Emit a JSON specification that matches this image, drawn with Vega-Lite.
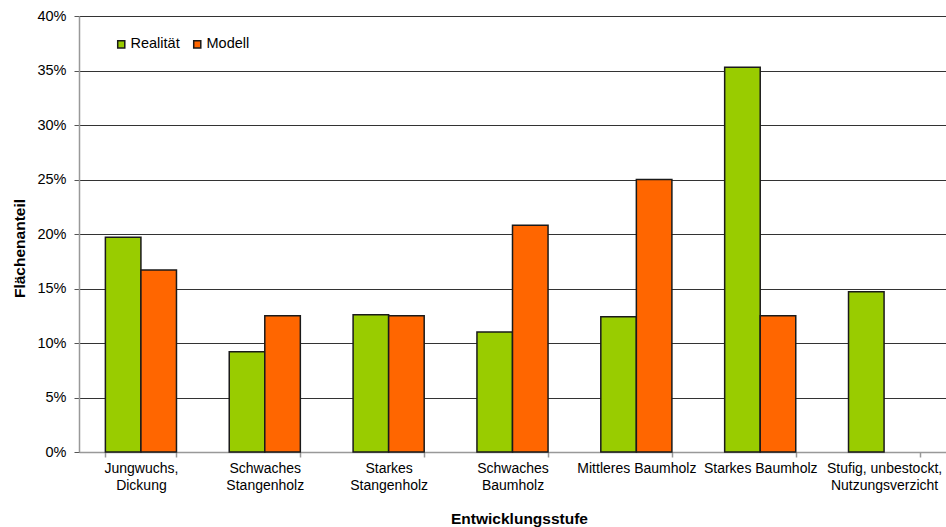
{
  "$schema": "https://vega.github.io/schema/vega-lite/v6.json",
  "width": 867,
  "height": 436,
  "autosize": {"type": "none"},
  "padding": {"left": 79, "top": 16, "right": 0, "bottom": 75},
  "background": "white",
  "config": {
    "font": "Liberation Sans",
    "view": {"stroke": null}
  },
  "data": {
    "values": [
      {"stufe": "Jungwuchs,\nDickung", "serie": "Realität", "anteil": 0.197},
      {"stufe": "Jungwuchs,\nDickung", "serie": "Modell", "anteil": 0.167},
      {"stufe": "Schwaches\nStangenholz", "serie": "Realität", "anteil": 0.092},
      {"stufe": "Schwaches\nStangenholz", "serie": "Modell", "anteil": 0.125},
      {"stufe": "Starkes\nStangenholz", "serie": "Realität", "anteil": 0.126},
      {"stufe": "Starkes\nStangenholz", "serie": "Modell", "anteil": 0.125},
      {"stufe": "Schwaches\nBaumholz", "serie": "Realität", "anteil": 0.110},
      {"stufe": "Schwaches\nBaumholz", "serie": "Modell", "anteil": 0.208},
      {"stufe": "Mittleres Baumholz", "serie": "Realität", "anteil": 0.124},
      {"stufe": "Mittleres Baumholz", "serie": "Modell", "anteil": 0.250},
      {"stufe": "Starkes Baumholz", "serie": "Realität", "anteil": 0.353},
      {"stufe": "Starkes Baumholz", "serie": "Modell", "anteil": 0.125},
      {"stufe": "Stufig, unbestockt,\nNutzungsverzicht", "serie": "Realität", "anteil": 0.147}
    ]
  },
  "mark": {"type": "bar", "stroke": "#1a1a1a", "strokeWidth": 1.5},
  "encoding": {
    "x": {
      "field": "stufe",
      "type": "nominal",
      "sort": ["Jungwuchs,\nDickung", "Schwaches\nStangenholz", "Starkes\nStangenholz", "Schwaches\nBaumholz", "Mittleres Baumholz", "Starkes Baumholz", "Stufig, unbestockt,\nNutzungsverzicht"],
      "scale": {"paddingInner": 0.426, "paddingOuter": 0.213},
      "axis": {
        "title": "Entwicklungsstufe",
        "titleFont": "Liberation Sans",
        "titleFontSize": 15.5,
        "titleFontWeight": "bold",
        "titleColor": "black",
        "titleX": 440,
        "titleY": 66,
        "titleBaseline": "middle",
        "titleAlign": "center",
        "labelExpr": "split(datum.label, '\\n')",
        "labelAngle": 0,
        "labelFontSize": 14,
        "labelColor": "black",
        "labelPadding": 4,
        "labelLineHeight": 17,
        "labelLimit": 200,
        "domainColor": "#999",
        "domainWidth": 1.5,
        "tickColor": "#999",
        "tickWidth": 1.5,
        "tickSize": 5,
        "tickBand": "extent",
        "grid": false
      }
    },
    "xOffset": {"field": "serie", "type": "nominal", "sort": ["Realität", "Modell"], "scale": {"domain": ["Realität", "Modell"], "paddingInner": 0, "paddingOuter": 0}},
    "y": {
      "field": "anteil",
      "type": "quantitative",
      "scale": {"domain": [0, 0.4], "nice": false},
      "axis": {
        "title": "Flächenanteil",
        "titleFont": "Liberation Sans",
        "titleFontSize": 15.5,
        "titleFontWeight": "bold",
        "titleColor": "black",
        "titleX": -60,
        "titleY": 232,
        "titleBaseline": "middle",
        "titleAlign": "center",
        "titleAngle": -90,
        "values": [0, 0.05, 0.1, 0.15, 0.2, 0.25, 0.3, 0.35, 0.4],
        "format": ".0%",
        "labelFontSize": 14.5,
        "labelColor": "black",
        "labelPadding": 8,
        "domainColor": "#999",
        "domainWidth": 1.5,
        "tickColor": "#555",
        "tickSize": 5,
        "grid": true,
        "gridColor": "#333",
        "gridWidth": 1,
        "gridOpacity": 1
      }
    },
    "color": {
      "field": "serie",
      "type": "nominal",
      "scale": {"domain": ["Realität", "Modell"], "range": ["#99CC00", "#FF6600"]},
      "legend": {
        "title": null,
        "orient": "none",
        "legendX": 35,
        "legendY": 21,
        "direction": "horizontal",
        "symbolType": "square",
        "symbolSize": 50,
        "symbolStrokeColor": "#1a1a1a",
        "symbolStrokeWidth": 1.5,
        "labelFontSize": 14.5,
        "labelColor": "black",
        "labelOffset": 2,
        "columnPadding": 10
      }
    }
  }
}
